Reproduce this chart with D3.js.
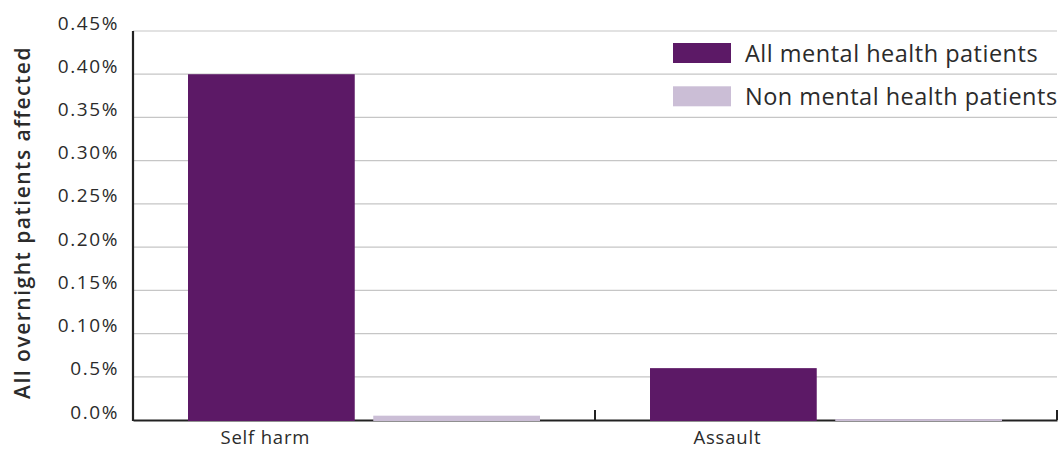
<!DOCTYPE html>
<html>
<head>
<meta charset="utf-8">
<script src="https://cdn.jsdelivr.net/npm/d3@7"></script>
<style>
  html, body { margin: 0; padding: 0; background: #fff; }
  svg { display: block; font-family: "Open Sans", "Noto Sans", sans-serif; }
</style>
</head>
<body>
<svg id="chart" width="1060" height="450"></svg>
<script>
// ---- data ----
const categories = ["Self harm", "Assault"];
const seriesNames = ["All mental health patients", "Non mental health patients"];
const mentalValues = [0.400, 0.060];      // % of overnight patients
const nonMentalValues = [0.005, 0.001];   // % of overnight patients
const tickValues = [0, 0.05, 0.10, 0.15, 0.20, 0.25, 0.30, 0.35, 0.40, 0.45];
const tickLabels = ["0.0%", "0.5%", "0.10%", "0.15%", "0.20%", "0.25%", "0.30%", "0.35%", "0.40%", "0.45%"];
const colors = ["#5c1966", "#cbbed6"];

const rows = categories.map((c, i) => ({ cat: c, values: [mentalValues[i], nonMentalValues[i]] }));

// ---- layout ----
const svg = d3.select("#chart");
const margin = { left: 133, right: 3, top: 31, bottom: 30 };
const W = 1060, H = 450;
const plotW = W - margin.left - margin.right;
const plotH = H - margin.top - margin.bottom;

const g = svg.append("g").attr("transform", `translate(${margin.left},${margin.top})`);

const x0 = d3.scaleBand().domain(categories).range([0, plotW]).paddingInner(0).paddingOuter(0);
const x1 = d3.scaleBand().domain(seriesNames).range([55, x0.bandwidth() - 55]).paddingInner(0.1).paddingOuter(0);
const y = d3.scaleLinear().domain([0, 0.45]).range([plotH, 0]);

// gridlines
g.append("g")
  .selectAll("line")
  .data(tickValues.filter(v => v > 0))
  .join("line")
  .attr("x1", 0).attr("x2", plotW)
  .attr("y1", d => y(d)).attr("y2", d => y(d))
  .attr("stroke", "#c6c6c6").attr("stroke-width", 1.2);

// y axis labels
const yAxis = d3.axisLeft(y).tickValues(tickValues).tickSize(0).tickPadding(14)
  .tickFormat((d, i) => tickLabels[i]);
const ya = g.append("g").call(yAxis);
ya.select(".domain").remove();
ya.selectAll("text")
  .attr("font-family", "'Open Sans', sans-serif")
  .attr("font-size", 19).attr("fill", "#2b2b2b")
  .attr("letter-spacing", 1.6)
  .attr("dy", "-0.1em");

// axis lines
g.append("line").attr("x1", 0).attr("x2", 0).attr("y1", 0).attr("y2", plotH + 1)
  .attr("stroke", "#222").attr("stroke-width", 2.2);
const xAxis = d3.axisBottom(x0).tickSize(0).tickFormat("");
const xa = g.append("g").attr("transform", `translate(0,${plotH})`).call(xAxis);
xa.select(".domain").attr("stroke", "#222").attr("stroke-width", 2.2);
// category boundary ticks (pointing up)
g.append("g").selectAll("line")
  .data(categories)
  .join("line")
  .attr("x1", d => x0(d) + x0.bandwidth()).attr("x2", d => x0(d) + x0.bandwidth())
  .attr("y1", plotH - 10).attr("y2", plotH)
  .attr("stroke", "#222").attr("stroke-width", 2);

// bars
const grp = g.append("g").selectAll("g")
  .data(rows)
  .join("g")
  .attr("transform", d => `translate(${x0(d.cat)},0)`);
grp.selectAll("rect")
  .data(d => d.values.map((v, i) => ({ key: seriesNames[i], v, i })))
  .join("rect")
  .attr("x", d => x1(d.key))
  .attr("width", x1.bandwidth())
  .attr("y", d => y(d.v))
  .attr("height", d => plotH - y(d.v) + 1)
  .attr("fill", d => colors[d.i]);

// category labels
g.append("g").selectAll("text")
  .data(categories)
  .join("text")
  .attr("x", d => x0(d) + x1(seriesNames[0]) + x1.bandwidth() / 2 - 6)
  .attr("y", plotH + 24)
  .attr("text-anchor", "middle")
  .attr("font-size", 18.5).attr("letter-spacing", 0.8).attr("fill", "#2b2b2b")
  .text(d => d);

// y axis title
svg.append("text")
  .attr("transform", `translate(30,${margin.top + plotH / 2 - 3}) rotate(-90)`)
  .attr("text-anchor", "middle")
  .attr("font-size", 21).attr("font-weight", 600).attr("letter-spacing", 1.5).attr("fill", "#2b2b2b")
  .text("All overnight patients affected");

// legend
const legend = svg.append("g").attr("transform", "translate(673,43)");
const li = legend.selectAll("g").data(seriesNames).join("g")
  .attr("transform", (d, i) => `translate(0,${i * 43.3})`);
li.append("rect").attr("width", 58).attr("height", 20).attr("fill", (d, i) => colors[i]);
li.append("text").attr("x", 72).attr("y", 19)
  .attr("font-size", 23.5).attr("letter-spacing", 0.5).attr("fill", "#2b2b2b")
  .text(d => d);
</script>
</body>
</html>
